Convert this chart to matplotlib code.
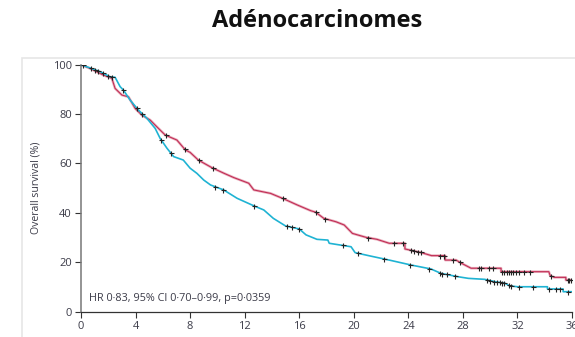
import numpy as np
import matplotlib
matplotlib.use("Agg")
import matplotlib.pyplot as plt
from matplotlib.patches import Rectangle

# Kaplan-Meier curves (months, % surviving)
red_t = [0, 0.66, 1.64, 2.26, 2.5, 3.0, 3.48, 3.97, 4.46, 5.07, 5.68, 6.18, 7.03, 7.65,
         8.0, 8.6, 9.6, 10.5, 11.2, 12.3, 12.67, 13.9, 14.9, 15.86, 16.84, 17.2, 17.8,
         18.7, 19.3, 19.9, 20.9, 21.7, 22.6, 23.75, 23.75, 24.9, 25.7, 26.7, 26.7, 27.5,
         27.9, 28.6, 30.8, 30.8, 34.3, 34.4, 34.7, 35.55, 35.55, 36]
red_s = [100, 98.5, 95.8, 94.5, 90.4, 87.7, 87.0, 82.3, 79.6, 77.6, 74.2, 71.5, 69.5, 65.5,
         64.5, 61.4, 58.3, 56.0, 54.3, 52.0, 49.3, 47.9, 45.6, 43.2, 40.9, 40.3, 37.8,
         36.4, 35.1, 31.7, 30.1, 29.3, 27.7, 27.7, 25.4, 24.0, 22.7, 22.7, 20.9, 20.9,
         19.6, 17.6, 17.6, 16.2, 16.2, 14.6, 13.9, 13.9, 12.8, 12.8]

cyan_t = [0, 1.4, 2.13, 2.5, 2.87, 3.1, 3.6, 4.2, 4.83, 5.44, 5.8, 6.3, 6.79, 7.5, 8.0,
          8.5, 9.0, 9.5, 10.46, 11.45, 12.7, 13.4, 14.1, 15.0, 16.0, 16.5, 17.3, 18.1,
          18.2, 19.8, 20.1, 21.25, 22.6, 24.2, 25.66, 26.4, 27.6, 28.4, 29.6, 30.4, 31.1,
          31.4, 32.0, 34.2, 34.2, 35.35, 35.35, 36]
cyan_s = [100, 97.2, 95.1, 94.9, 91.1, 89.8, 85.7, 81.7, 78.3, 74.2, 70.2, 66.2, 62.8,
          61.4, 58.1, 56.0, 53.3, 51.3, 49.3, 45.9, 42.8, 41.2, 37.8, 34.7, 33.5, 31.1,
          29.3, 29.0, 27.7, 26.3, 23.9, 22.5, 20.9, 18.9, 17.3, 15.5, 14.2, 13.5, 13.1,
          12.1, 11.5, 10.5, 10.1, 10.1, 9.2, 9.2, 8.1, 8.1]

# Censoring times
red_cens = [6.2, 7.6, 8.65, 9.7, 14.8, 17.2, 17.9, 21.05, 22.95, 23.6, 24.2, 24.4, 24.7,
            24.9, 26.3, 26.6, 27.3, 27.8, 29.2, 29.3, 29.9, 30.2, 30.9, 31.05, 31.2, 31.35,
            31.5, 31.7, 31.9, 32.1, 32.45, 32.9, 34.45, 35.7, 35.8, 35.9]
cyan_cens = [0.15, 0.7, 1.03, 1.27, 1.64, 2.0, 2.26, 3.1, 4.1, 4.5, 5.9, 6.6, 9.85, 10.4,
             12.7, 15.1, 15.5, 16.0, 19.2, 20.3, 22.2, 24.1, 25.5, 26.3, 26.5, 26.8, 27.4,
             29.8, 30.0, 30.3, 30.5, 30.7, 30.9, 31.05, 31.35, 31.55, 32.15, 33.15, 34.3,
             34.8, 35.1, 35.7]

x_ticks = [0, 4, 8, 12, 16, 20, 24, 28, 32, 36]
y_ticks = [0, 20, 40, 60, 80, 100]
title = "Adénocarcinomes"
ylabel = "Overall survival (%)"
note = "HR 0·83, 95% CI 0·70–0·99, p=0·0359"

RED_CORE = "#c12d55"
RED_HALO = "#eab3c0"
CYAN = "#1fb3d3"
TXT = "#3b3b48"

plt.rcParams["font.family"] = ["Open Sans", "DejaVu Sans"]

fig = plt.figure(figsize=(5.75, 3.37), dpi=100)
fig.patch.set_facecolor("white")

# card outline behind the plot
card = Rectangle((22 / 575, -0.1), 1.2, (337 - 58) / 337 + 0.1,
                 transform=fig.transFigure, facecolor="white",
                 edgecolor="#e6e6e6", lw=1.2, zorder=-5)
fig.patches.append(card)

fig.text(317 / 575, 1 - 21 / 337, title, ha="center", va="center",
         fontsize=17, fontweight="bold", family=["Open Sans", "DejaVu Sans"], color="#111111")

ax = fig.add_axes([81 / 575, 1 - 311.7 / 337, (572 - 81) / 575, (311.7 - 64.7) / 337])
ax.set_zorder(5)
ax.set_facecolor("none")

ax.plot(red_t, red_s, color=RED_HALO, lw=1.9, zorder=2)
ax.plot(red_t, red_s, color=RED_CORE, lw=0.8, zorder=3)
ax.plot(cyan_t, cyan_s, color=CYAN, lw=1.2, zorder=3)

ax.plot(red_cens, np.interp(red_cens, red_t, red_s), ls="none", marker="+",
        ms=3.6, mew=0.8, color="#222222", zorder=4)
ax.plot(cyan_cens, np.interp(cyan_cens, cyan_t, cyan_s), ls="none", marker="+",
        ms=3.6, mew=0.8, color="#222222", zorder=4)

ax.set_xlim(0, 36)
ax.set_ylim(0, 100)
ax.set_xticks(x_ticks)
ax.set_yticks(y_ticks)
for s in ("top", "right"):
    ax.spines[s].set_visible(False)
ax.spines["left"].set_color("#777777")
ax.spines["left"].set_linewidth(1.1)
ax.spines["bottom"].set_color("#333333")
ax.spines["bottom"].set_linewidth(0.9)
ax.tick_params(axis="both", direction="out", length=4.5, width=0.8, color="#333333",
               labelsize=8, labelcolor=TXT, pad=2)

ax.set_ylabel(ylabel, fontsize=7.6, color=TXT, labelpad=8)
ax.text(0.6, 3.2, note, fontsize=7.8, color=TXT, ha="left", va="bottom")

fig.savefig("out.png", dpi=100, facecolor="white")
